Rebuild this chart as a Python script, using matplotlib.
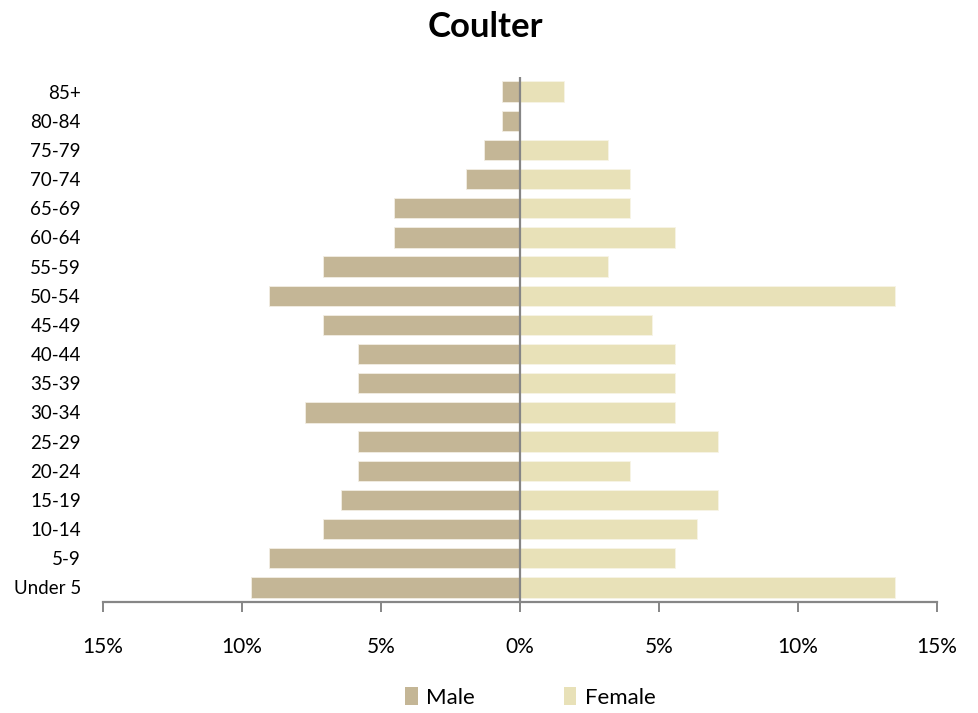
import numpy as np
import matplotlib.pyplot as plt
from matplotlib.patches import Patch

# age groups, bottom to top
ages = ['Under 5', '5-9', '10-14', '15-19', '20-24', '25-29', '30-34', '35-39', '40-44',
        '45-49', '50-54', '55-59', '60-64', '65-69', '70-74', '75-79', '80-84', '85+']

# percent of population
male = [9.68, 9.03, 7.10, 6.45, 5.81, 5.81, 7.74, 5.81, 5.81,
        7.10, 9.03, 7.10, 4.52, 4.52, 1.94, 1.29, 0.65, 0.65]
female = [13.49, 5.56, 6.35, 7.14, 3.97, 7.14, 5.56, 5.56, 5.56,
          4.76, 13.49, 3.17, 5.56, 3.97, 3.97, 3.17, 0.00, 1.59]

xticks = [-15, -10, -5, 0, 5, 10, 15]

MALE_COLOR = '#C4B696'
FEMALE_COLOR = '#E8E1B8'
AXIS_GRAY = '#868686'

plt.rcParams['font.family'] = ['Lato', 'DejaVu Sans']

fig = plt.figure(figsize=(9.79, 7.13), dpi=100)
ax = fig.add_axes([0.1052, 0.1557, 0.8519, 0.7363])

y = np.arange(len(ages))
ax.barh(y, -np.array(male), height=0.7, color=MALE_COLOR, edgecolor='#F2EEE4', linewidth=0.6)
ax.barh(y, female, height=0.7, color=FEMALE_COLOR, edgecolor='#F7F4E6', linewidth=0.6)

ax.axvline(0, color=AXIS_GRAY, lw=1.6, zorder=3)

ax.set_xlim(-15, 15)
ax.set_ylim(-0.5, len(ages) - 0.5)

ax.set_yticks(y)
ax.set_yticklabels(ages, fontsize=13.5)
ax.tick_params(axis='y', length=0, pad=16)

ax.set_xticks(xticks)
ax.set_xticklabels(['{}%'.format(abs(t)) for t in xticks], fontsize=15)
ax.tick_params(axis='x', direction='out', length=7, width=1.4, color=AXIS_GRAY, pad=18)

for side in ['left', 'right', 'top']:
    ax.spines[side].set_visible(False)
ax.spines['bottom'].set_color(AXIS_GRAY)
ax.spines['bottom'].set_linewidth(1.6)

fig.text(0.4955, 0.962, 'Coulter', ha='center', va='center', fontsize=25, fontweight='bold')

handles = [Patch(facecolor=MALE_COLOR), Patch(facecolor=FEMALE_COLOR)]
fig.legend(handles, ['Male', 'Female'], loc='center', bbox_to_anchor=(0.542, 0.022),
           ncol=2, frameon=False, fontsize=16, handlelength=0.55, handleheight=0.9,
           handletextpad=0.4, columnspacing=4.0)

fig.savefig('out.png', dpi=100)
